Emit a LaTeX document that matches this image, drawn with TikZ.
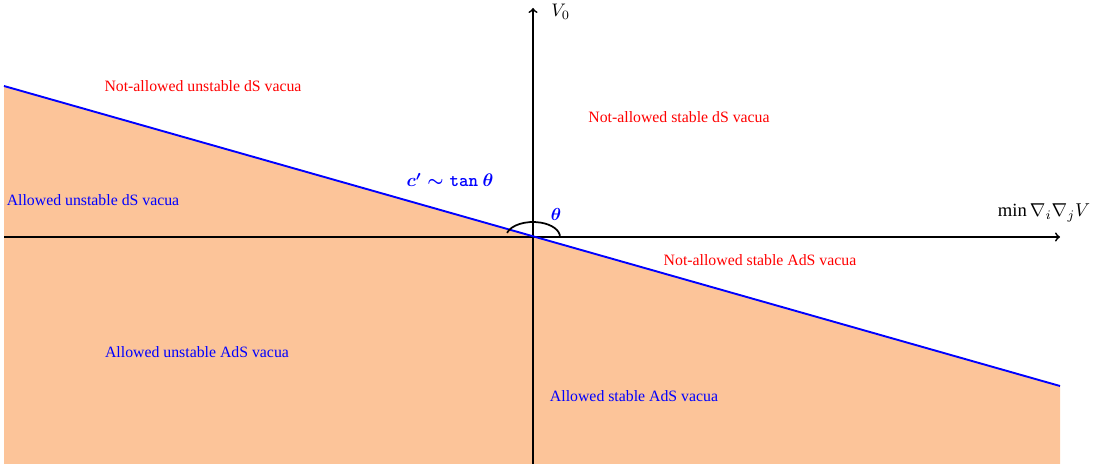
\documentclass[tikz,border=0pt]{standalone}
\usepackage{amsmath}
\usepackage{fontspec}
\setmainfont{Liberation Serif}
\begin{document}
\begin{tikzpicture}[x=0.633pt,y=-0.633pt,
  axis/.style={line width=1.1pt,->,>=to},
  redlab/.style={text=red,font=\normalsize,inner sep=0pt},
  bluelab/.style={text=blue,font=\normalsize,inner sep=0pt}]
\definecolor{peach}{RGB}{252,196,153}
\useasboundingbox (0,0) rectangle (1097,464);
\coordinate (O) at (533,237);
\coordinate (L) at (4,86);
\coordinate (R) at (1060,386);
\fill[peach] (L) -- (R) -- (1060,464) -- (4,464) -- cycle;
\coordinate (xs) at (4,237);
\coordinate (xe) at (1060,237);
\coordinate (ys) at (533,464);
\coordinate (ye) at (533,8);
\draw[axis] (xs) -- (xe);
\draw[axis] (ys) -- (ye);
\draw[blue,line width=1.2pt] (L) -- (R);
\draw[line width=1.1pt] ([shift={(-164:27 and 15)}]O) arc[start angle=-164,end angle=0,x radius=27,y radius=15];
\node[anchor=west,inner sep=0pt,scale=1.15] (v0) at (551,12) {$V_0$};
\node[inner sep=0pt,scale=1.18] (xl) at (1044,213) {$\min \nabla_i \nabla_j V$};
\node[text=blue,inner sep=0pt,scale=1.1] (th) at (556,214) {$\boldsymbol{\theta}$};
\node[text=blue,inner sep=0pt,scale=1.15] (c) at (450,180) {$\boldsymbol{c'\sim \texttt{\bfseries tan}\ \theta}$};
\node[redlab] (n1) at (203,86) {Not-allowed unstable dS vacua};
\node[redlab] (n2) at (679,117) {Not-allowed stable dS vacua};
\node[redlab] (n3) at (760,260) {Not-allowed stable AdS vacua};
\node[bluelab] (a1) at (93,200) {Allowed unstable dS vacua};
\node[bluelab] (a2) at (197,352) {Allowed unstable AdS vacua};
\node[bluelab] (a3) at (634,396) {Allowed stable AdS vacua};
\end{tikzpicture}
\end{document}
